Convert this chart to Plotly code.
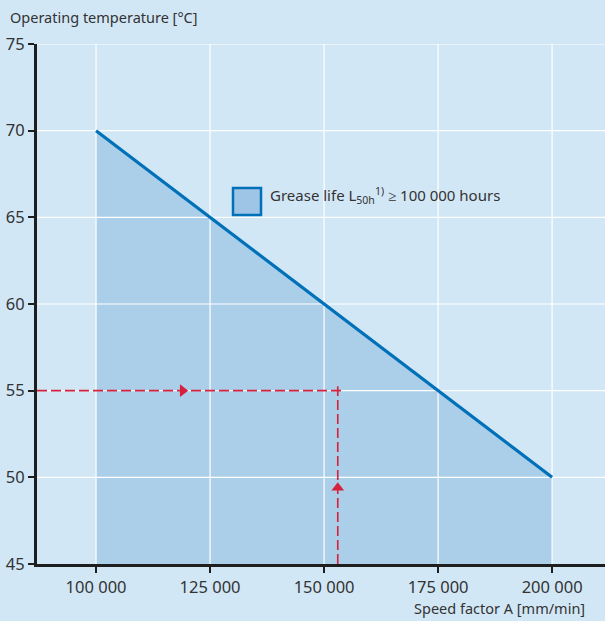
import plotly.graph_objects as go

# grease life limit line
speed = [100000, 200000]
temp = [70, 50]

# worked example (reading)
example_speed = 153000
example_temp = 55
arrow_h_speed = 119000
arrow_v_temp = 49.4

x_ticks = [100000, 125000, 150000, 175000, 200000]
x_ticktext = ["100 000", "125 000", "150 000", "175 000", "200 000"]
y_ticks = [45, 50, 55, 60, 65, 70, 75]

X_RANGE = [87050, 211600]
Y_RANGE = [45, 75]

BG = "#d2e7f6"
FILL = "#abcee9"
BLUE = "#0070b8"
RED = "#d6203e"
TXT = "#333333"
FONT = "Noto Sans"

fig = go.Figure()

# shaded region under the line
fig.add_trace(go.Scatter(
    x=[speed[0]] + speed + [speed[-1]],
    y=[Y_RANGE[0]] + temp + [Y_RANGE[0]],
    fill="toself", fillcolor=FILL, mode="none", hoverinfo="skip",
))

# white grid drawn over the fill but under the lines
gx, gy = [], []
for xv in x_ticks:
    gx += [xv, xv, None]
    gy += [Y_RANGE[0], Y_RANGE[1], None]
for yv in y_ticks[1:]:
    gx += [X_RANGE[0], X_RANGE[1], None]
    gy += [yv, yv, None]
fig.add_trace(go.Scatter(x=gx, y=gy, mode="lines", line=dict(color="white", width=1.2),
                         hoverinfo="skip"))

# limit line
fig.add_trace(go.Scatter(x=speed, y=temp, mode="lines",
                         line=dict(color=BLUE, width=3.2), hoverinfo="skip"))

# red dashed reading lines
dash = dict(color=RED, width=1.6, dash="10px,4px")
fig.add_trace(go.Scatter(x=[X_RANGE[0], example_speed + 1000], y=[example_temp, example_temp],
                         mode="lines", line=dash, hoverinfo="skip"))
fig.add_trace(go.Scatter(x=[example_speed, example_speed], y=[Y_RANGE[0], example_temp + 0.25],
                         mode="lines", line=dash, hoverinfo="skip"))
fig.add_trace(go.Scatter(x=[arrow_h_speed], y=[example_temp], mode="markers",
                         marker=dict(symbol="triangle-right", size=11, color=RED), hoverinfo="skip"))
fig.add_trace(go.Scatter(x=[example_speed], y=[arrow_v_temp], mode="markers",
                         marker=dict(symbol="triangle-up", size=11, color=RED), hoverinfo="skip"))

# legend swatch
fig.add_shape(type="rect", xref="paper", yref="paper",
              x0=(233 - 37) / 568, x1=(261 - 37) / 568,
              y0=(564 - 215) / 520, y1=(564 - 188) / 520,
              fillcolor="#9fc5e6", line=dict(color=BLUE, width=2.5), layer="above")
fig.add_annotation(xref="paper", yref="paper", x=(268 - 37) / 568, y=(564 - 196) / 520,
                   text="Grease life L<sub>50h</sub><sup>1)</sup> ≥ 100 000 hours",
                   showarrow=False, xanchor="left", yanchor="middle",
                   font=dict(family=FONT, size=15, color=TXT))

# axis titles
fig.add_annotation(xref="paper", yref="paper", x=(8 - 37) / 568, y=(564 - 17) / 520,
                   text="Operating temperature [°C]", showarrow=False,
                   xanchor="left", yanchor="middle", font=dict(family=FONT, size=14.5, color=TXT))
fig.add_annotation(xref="paper", yref="paper", x=(587 - 37) / 568, y=(564 - 608) / 520,
                   text="Speed factor A [mm/min]", showarrow=False,
                   xanchor="right", yanchor="middle", font=dict(family=FONT, size=14.5, color=TXT))

fig.update_xaxes(range=X_RANGE, tickvals=x_ticks, ticktext=x_ticktext,
                 showgrid=False, zeroline=False, showline=True, linecolor="#1e1e1e",
                 linewidth=3, ticks="outside", ticklen=6, tickwidth=1.5, tickcolor="#1e1e1e",
                 tickfont=dict(family=FONT, size=16.5, color=TXT))
fig.update_yaxes(range=Y_RANGE, tickvals=y_ticks, showgrid=False, zeroline=False,
                 showline=True, linecolor="#1e1e1e", linewidth=3, ticks="outside",
                 ticklen=6, tickwidth=1.5, tickcolor="#1e1e1e",
                 tickfont=dict(family=FONT, size=16.5, color=TXT))

fig.update_layout(width=605, height=621, margin=dict(l=37, r=0, t=44, b=57),
                  paper_bgcolor=BG, plot_bgcolor=BG, showlegend=False)

fig.write_html("out.html", config={"displayModeBar": False},
               post_script="document.body.style.margin='0';")
